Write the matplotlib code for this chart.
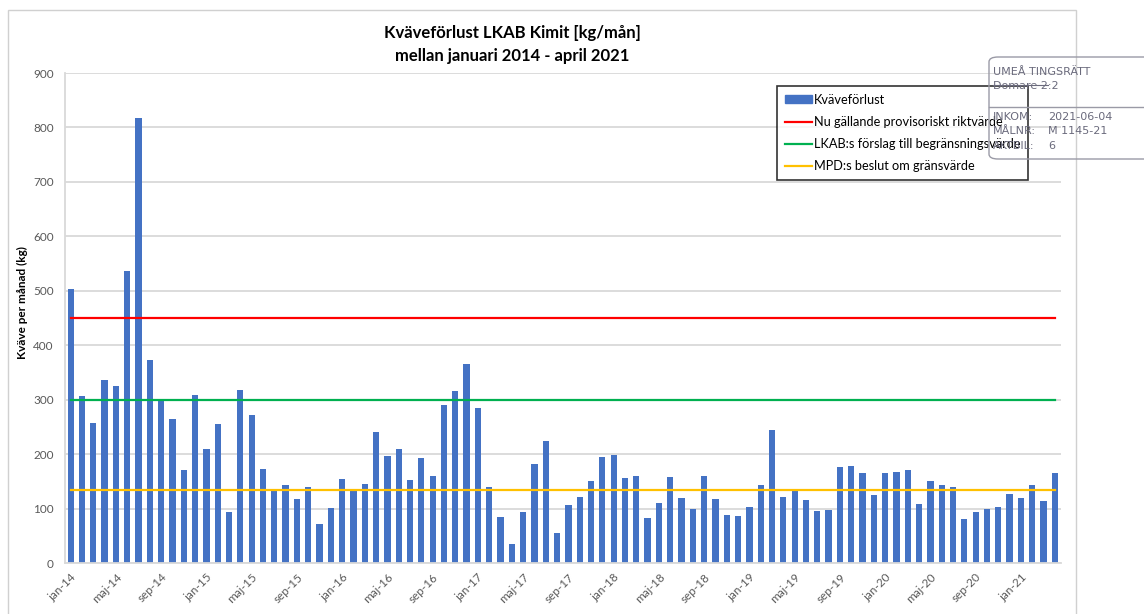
# ================================================    Modules import     =====================================================

import numpy as np
import matplotlib
matplotlib.use("Agg")
import matplotlib.pyplot as plt
from matplotlib.patches import Patch, Rectangle, FancyBboxPatch
from matplotlib.lines import Line2D

# ================================================          Data          ================================================

# Monthly nitrogen loss (kg), jan-14 .. apr-21
months = ["jan", "feb", "mar", "apr", "maj", "jun", "jul", "aug", "sep", "okt", "nov", "dec"]
years = ["14", "15", "16", "17", "18", "19", "20", "21"]

kvave_2014 = [503, 307, 258, 336, 325, 537, 818, 372, 301, 265, 170, 308]
kvave_2015 = [209, 256, 94, 317, 272, 172, 135, 143, 118, 139, 72, 101]
kvave_2016 = [155, 134, 146, 240, 196, 210, 152, 192, 159, 290, 316, 365]
kvave_2017 = [284, 140, 84, 34, 94, 181, 225, 56, 107, 122, 151, 194]
kvave_2018 = [198, 157, 160, 82, 110, 158, 119, 99, 159, 118, 88, 87]
kvave_2019 = [103, 143, 245, 121, 132, 115, 96, 97, 176, 178, 166, 124]
kvave_2020 = [165, 167, 171, 108, 150, 144, 140, 80, 93, 100, 102, 126]
kvave_2021 = [119, 143, 114, 166]

# Reference levels (kg/month)
riktvarde = 450        # Nu gällande provisoriskt riktvärde
lkab_forslag = 300     # LKAB:s förslag till begränsningsvärde
mpd_beslut = 135       # MPD:s beslut om gränsvärde

# ================================================          Warfield          ================================================

kvave = (kvave_2014 + kvave_2015 + kvave_2016 + kvave_2017
         + kvave_2018 + kvave_2019 + kvave_2020 + kvave_2021)
labels = [m + "-" + y for y in years for m in months][:len(kvave)]
x = np.arange(len(kvave))

plt.rcParams['font.family'] = ['Lato', 'DejaVu Sans']

W, H = 1144, 614
fig = plt.figure(figsize=(W / 100, H / 100), dpi=100)
ax = fig.add_axes([65 / W, 1 - 563 / H, (1060.5 - 65) / W, (563 - 73) / H])

blue = "#4472C4"
grid_c = "#D9D9D9"
text_c = "#595959"

ax.bar(x, kvave, width=0.55, color=blue, zorder=2)
l_red, = ax.plot(x, [riktvarde] * len(x), color="#FF0000", lw=1.6, zorder=3)
l_green, = ax.plot(x, [lkab_forslag] * len(x), color="#00B050", lw=1.6, zorder=3)
l_orange, = ax.plot(x, [mpd_beslut] * len(x), color="#FFC000", lw=1.6, zorder=3)

ax.set_xlim(-0.5, len(x) - 0.5)
ax.set_ylim(0, 900)
ax.set_yticks(np.arange(0, 901, 100))
ax.yaxis.grid(True, color=grid_c, lw=1.3, zorder=0)
ax.set_axisbelow(True)

ax.set_xticks(x[::4])
ax.set_xticklabels(labels[::4], rotation=45, ha="right", rotation_mode="anchor")
ax.tick_params(axis="both", length=0, labelsize=8.5, labelcolor=text_c)
ax.tick_params(axis="x", pad=6)
ax.tick_params(axis="y", pad=8)

for s in ["top", "right"]:
    ax.spines[s].set_visible(False)
for s in ["left", "bottom"]:
    ax.spines[s].set_color(grid_c)
    ax.spines[s].set_linewidth(1.3)

ax.set_ylabel("Kväve per månad (kg)", fontsize=8.5, fontweight="bold")
ax.yaxis.set_label_coords(-37 / (1060.5 - 65), (563 - 303) / (563 - 73))

fig.text(512 / W, 1 - 33 / H, "Kväveförlust LKAB Kimit [kg/mån]", ha="center", va="center",
         fontsize=12, fontweight="bold")
fig.text(512 / W, 1 - 56 / H, "mellan januari 2014 - april 2021", ha="center", va="center",
         fontsize=12, fontweight="bold")

# Legend
handles = [Patch(color=blue), l_red, l_green, l_orange]
names = ["Kväveförlust", "Nu gällande provisoriskt riktvärde",
         "LKAB:s förslag till begränsningsvärde", "MPD:s beslut om gränsvärde"]
leg = ax.legend(handles, names, loc="upper left", bbox_to_anchor=(777 / W, 1 - 86 / H),
                bbox_transform=fig.transFigure, fontsize=9.2, frameon=True, fancybox=False,
                handlelength=2.1, handleheight=0.5, handletextpad=0.2, labelspacing=0.8,
                borderpad=0.6, borderaxespad=0)
leg.get_frame().set_edgecolor("black")
leg.get_frame().set_linewidth(1.2)

# Chart border
fig.patches.append(Rectangle((8 / W, -0.02), (1076 - 8) / W, 1 - 10 / H + 0.02,
                             transform=fig.transFigure, fill=False, edgecolor="#D0D0D0", lw=1))

# Court stamp
stamp_c = "#6A6A7C"
fig.patches.append(FancyBboxPatch((989 / W, 1 - 159 / H), 200 / W, 102 / H,
                                  boxstyle="round,pad=0,rounding_size=0.008",
                                  transform=fig.transFigure, fill=False, edgecolor="#9A9AA6",
                                  lw=1, zorder=5))
fig.lines.append(Line2D([989 / W, 1], [1 - 107 / H, 1 - 107 / H], transform=fig.transFigure,
                        color="#9A9AA6", lw=1, zorder=5))
stamp_rows = [("UMEÅ TINGSRÄTT", "", 72), ("Domare 2:2", "", 86),
              ("INKOM:", "2021-06-04", 117), ("MÅLNR:", "M 1145-21", 131), ("AKTBIL:", "6", 146)]
for left, right, yy in stamp_rows:
    fig.text(993 / W, 1 - yy / H, left, ha="left", va="center", fontsize=8,
             color=stamp_c, family="DejaVu Sans", zorder=6)
    if right:
        fig.text(1048 / W, 1 - yy / H, right, ha="left", va="center", fontsize=8,
                 color=stamp_c, family="DejaVu Sans", zorder=6)
fig.lines.append(Line2D([993 / W, 1048 / W], [1 - 85 / H, 1 - 85 / H], transform=fig.transFigure,
                        color=stamp_c, lw=0.8, zorder=6))

fig.savefig("out.png", dpi=100)
plt.close(fig)
